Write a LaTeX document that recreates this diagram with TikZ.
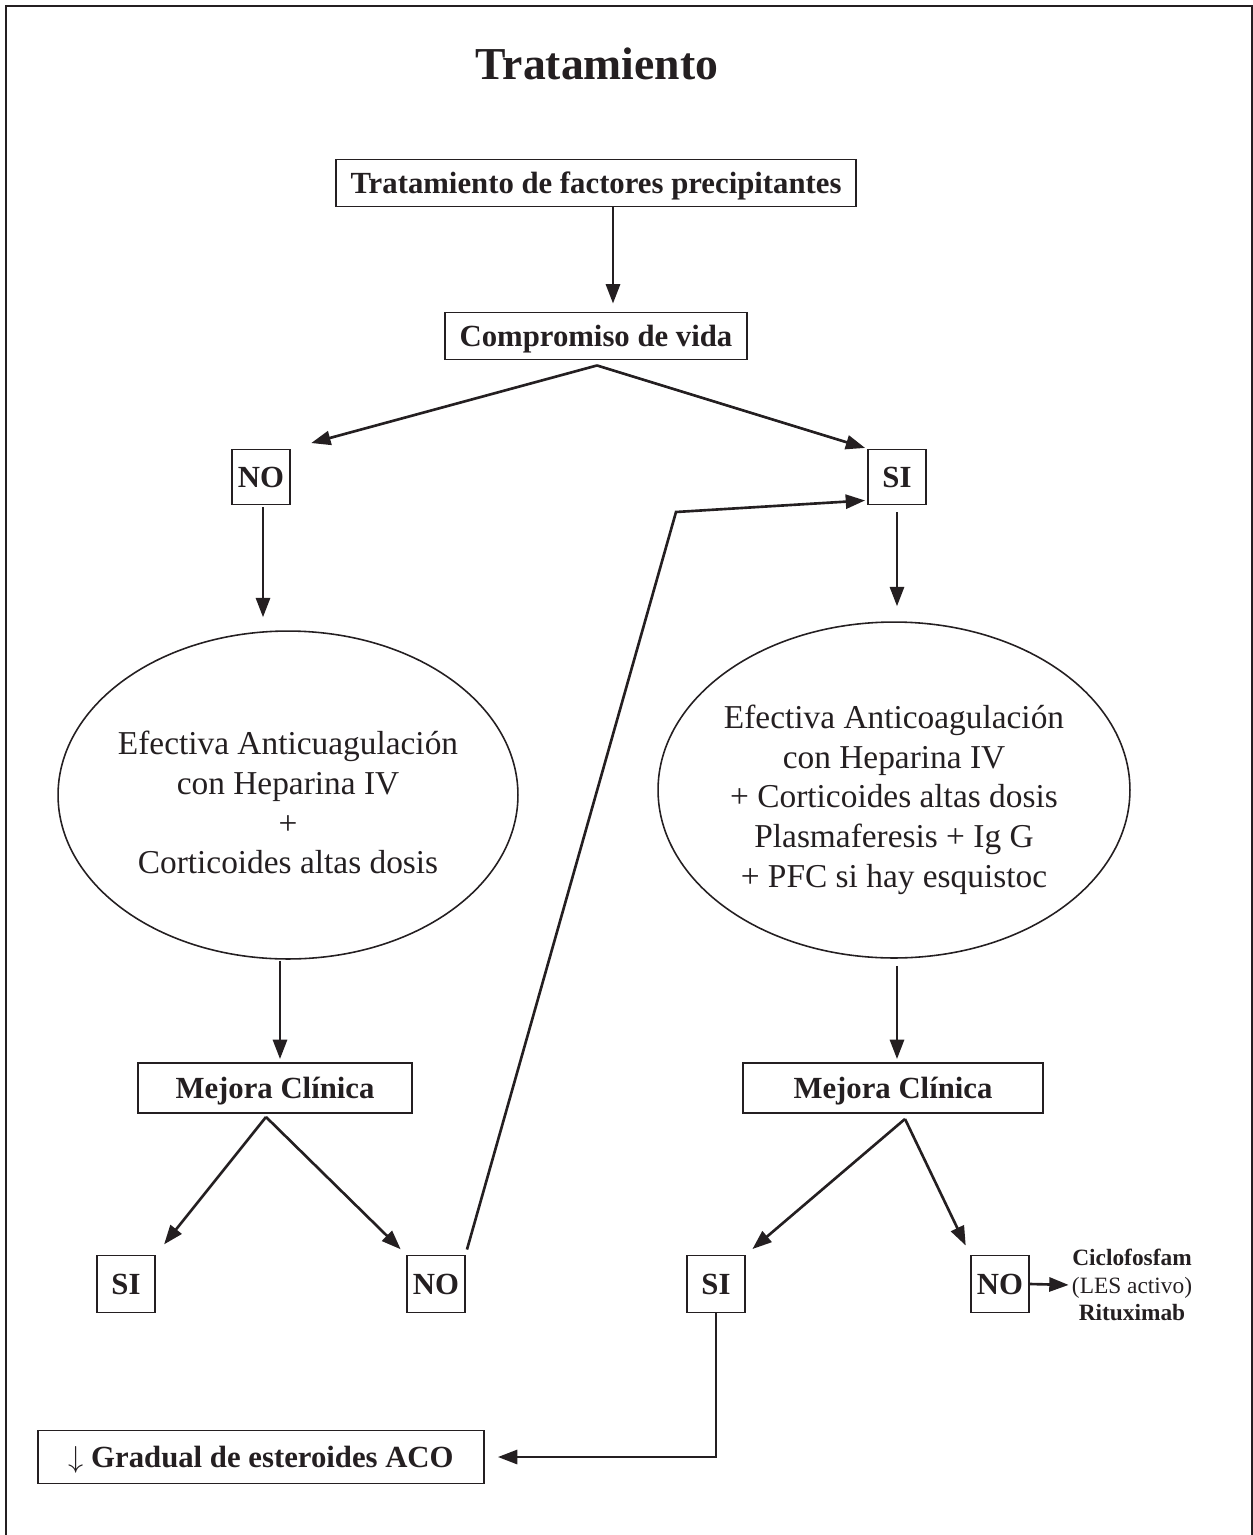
\documentclass[tikz,border=0pt]{standalone}
\usepackage{fontspec}
\setmainfont{Liberation Serif}
\usetikzlibrary{arrows.meta,calc,shapes.geometric}
\definecolor{ink}{rgb}{0.14,0.12,0.13}
\tikzset{box/.style = {shape=rectangle,draw=ink,line width=1.1pt,text=ink,inner sep=0pt,text height=15pt,text depth=3.4pt,font=\fontsize{17.5}{21}\selectfont\bfseries}}
\tikzset{oval/.style = {shape=ellipse,draw=ink,line width=0.9pt,text=ink,align=center,inner sep=-1cm,font=\fontsize{19}{22.7}\selectfont}}
\tikzset{edge/.style = {draw=ink,line width=1.5pt,-{Triangle[length=11pt,width=8pt]}}}

\begin{document}
\begin{tikzpicture}[x=0.02cm,y=-0.02cm]
\useasboundingbox (0,0) rectangle (1253,1535);
% frame
\draw[ink,line width=1.7pt] (6,1535) -- (6,6) -- (1252,6) -- (1252,1535);
% nodes
\node[text=ink,font=\fontsize{26}{30}\selectfont\bfseries] (title) at (597,64) {Tratamiento};
\node[box,minimum width=10.4cm,minimum height=0.94cm] (prec) at (596,183) {Tratamiento de factores precipitantes};
\node[box,minimum width=6.04cm,minimum height=0.94cm] (comp) at (596,336) {Compromiso de vida};

\node[box,minimum width=1.16cm,minimum height=1.1cm] (noT) at (261,477) {NO};
\node[box,minimum width=1.16cm,minimum height=1.1cm] (siT) at (897,477) {SI};

\node[oval,minimum width=9.2cm,minimum height=6.56cm] (effL) at (288,795)
  {\rule{0pt}{22pt}Efectiva Anticuagulación\\con Heparina IV\\+\\Corticoides altas dosis};
\node[oval,minimum width=9.44cm,minimum height=6.72cm] (effR) at (894,790)
  {\rule{0pt}{24.5pt}Efectiva Anticoagulación\\con Heparina IV\\+ Corticoides altas dosis\\Plasmaferesis + Ig G\\+ PFC si hay esquistoc};

\node[box,minimum width=5.48cm,minimum height=1cm] (mejL) at (275,1088) {Mejora Clínica};
\node[box,minimum width=6cm,minimum height=1cm] (mejR) at (893,1088) {Mejora Clínica};

\node[box,minimum width=1.16cm,minimum height=1.14cm] (siL) at (126,1284) {SI};
\node[box,minimum width=1.16cm,minimum height=1.14cm] (noL) at (436,1284) {NO};
\node[box,minimum width=1.16cm,minimum height=1.14cm] (siR) at (716,1284) {SI};
\node[box,minimum width=1.16cm,minimum height=1.14cm] (noR) at (1000,1284) {NO};

\node[text=ink,align=center,inner sep=0pt,font=\fontsize{13.3}{15.5}\selectfont] (ciclo) at (1132,1285)
  {\textbf{Ciclofosfam}\\(LES activo)\\\textbf{Rituximab}};
\node[box,minimum width=8.92cm,minimum height=1.06cm] (grad) at (261,1457) {$\downarrow$ Gradual de esteroides ACO};

\coordinate (compfork) at ($(comp.south)+(1,5)$);
\coordinate (mejLfork) at ($(mejL.south)+(-9,3)$);
\coordinate (mejRfork) at ($(mejR.south)+(12,5)$);
\coordinate (bend) at (676,512);
%edges
\draw[edge,shorten >=0.16cm] ($(prec.south)+(17,0)$) -- ($(comp.north)+(17,0)$);
\draw[edge,shorten >=0.42cm] (compfork) -- (noT.north east);
\draw[edge,shorten >=0.04cm] (compfork) -- (siT.north west);

\draw[edge,shorten <=0.04cm,shorten >=0.26cm] ($(noT.south)+(2,0)$) -- ($(noT.south |- effL.north)+(2,0)$);
\draw[edge,shorten <=0.14cm,shorten >=0.3cm] (siT.south) -- (siT.south |- effR.north);

\draw[edge,shorten <=0.02cm,shorten >=0.06cm] ($(mejL.north |- effL.south)+(5,0)$) -- ($(mejL.north)+(5,0)$);
\draw[edge,shorten <=0.14cm,shorten >=0.06cm] ($(mejR.north |- effR.south)+(4,0)$) -- ($(mejR.north)+(4,0)$);

\draw[edge,shorten >=0.26cm] (mejLfork) -- (siL.north east);
\draw[edge,shorten >=0.15cm] (mejLfork) -- (noL.north west);
\draw[edge,shorten >=0.17cm] (mejRfork) -- (siR.north east);
\draw[edge,shorten >=0.2cm] (mejRfork) -- (noR.north west);

\draw[edge] ($(noL.north east)+(1,-5)$) -- (bend) -- ($(siT.south west)+(-2,-5)$);
\draw[edge,shorten >=0.06cm] (noR.east) -- (ciclo.west);
\draw[edge,shorten >=0.26cm] (siR.south) |- (grad.east);
\end{tikzpicture}
\end{document}
